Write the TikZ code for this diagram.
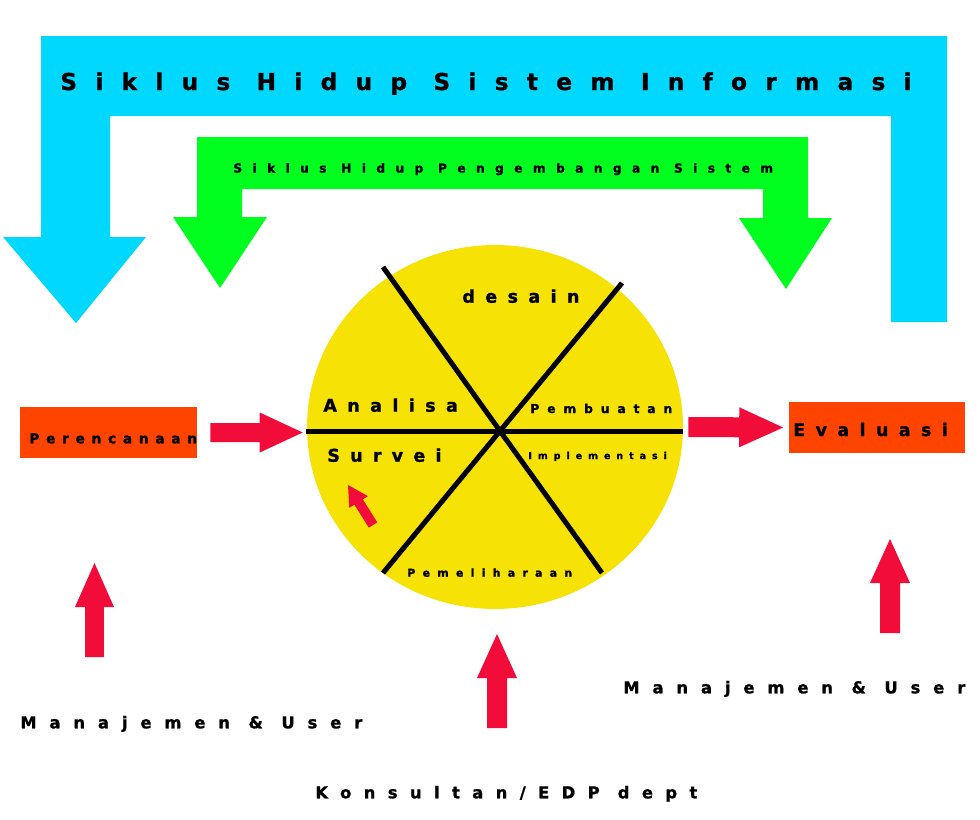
\documentclass[tikz,border=0pt]{standalone}
\usepackage{fontspec}
\setmainfont{DejaVu Sans}[BoldFeatures={FakeBold=1.2}]
\usetikzlibrary{calc,shapes.geometric}

\definecolor{infocyan}{RGB}{0,216,255}
\definecolor{devgreen}{RGB}{0,255,30}
\definecolor{wheelyellow}{RGB}{247,226,6}
\definecolor{boxorange}{RGB}{255,68,0}
\definecolor{arrowred}{RGB}{242,12,58}

% letter-spaced bold text: size (pt), spacing
\newcommand{\spaced}[2]{\fontsize{#1}{#1}\selectfont\addfontfeature{LetterSpace=#2}}
% block arrow: tail, tip, half shaft, half head, head length
\newcommand{\fatarrow}[5]{%
  \coordinate (fa-base) at ($(#2)!#5!(#1)$);
  \fill[arrowred] ($(#1)!#3!90:(#2)$) -- ($(fa-base)!#3!90:(#2)$) -- ($(fa-base)!#4!90:(#2)$)
    -- (#2) -- ($(fa-base)!#4!-90:(#2)$) -- ($(fa-base)!#3!-90:(#2)$) -- ($(#1)!#3!-90:(#2)$) -- cycle;}

\begin{document}
\begin{tikzpicture}[x=0.02cm, y=-0.02cm,
  txt/.style={anchor=base west, inner sep=0pt, font=\bfseries},
  stagebox/.style={fill=boxorange, minimum width=3.54cm, minimum height=1.02cm, inner sep=0pt},
  spoke/.style={line width=0.1cm}]
  \fill[white] (0,0) rectangle (980,819);

  % outer cycle (cyan)
  \fill[infocyan] (947,322) -- (947,36) -- (41,36) -- (41,237) -- (3,237) -- (76,323) -- (146,237)
    -- (110,237) -- (110,116) -- (891,116) -- (891,322) -- cycle;
  \node[txt] (info-title) at (60,90) {\spaced{13.2}{79}Siklus Hidup Sistem Informasi};

  % inner cycle (green)
  \fill[devgreen] (808,218) -- (808,137) -- (197,137) -- (197,217) -- (173,217) -- (220,288) -- (267,217)
    -- (242,217) -- (242,189) -- (763,189) -- (763,218) -- (739,218) -- (786,289) -- (832,218) -- cycle;
  \node[txt] (dev-title) at (233,172.5) {\spaced{7}{84}Siklus Hidup Pengembangan Sistem};

  % wheel of stages
  \node[ellipse, fill=wheelyellow, minimum width=7.52cm, minimum height=7.28cm, inner sep=0pt] (wheel) at (495,427) {};
  \coordinate (hub) at (500,431);
  \foreach \p in {(383,267),(622,283),(383,573),(602,573),(306,431),(683,431)}
    \draw[spoke] (hub) -- \p;
  \node[txt] (desain) at (462,302.7) {\spaced{10}{59}desain};
  \node[txt] (analisa) at (323,411.7) {\spaced{10}{59}Analisa};
  \node[txt] (pembuatan) at (530,413) {\spaced{7}{64}Pembuatan};
  \node[txt] (survei) at (327,461.7) {\spaced{10}{58}Survei};
  \node[txt] (implementasi) at (528,459) {\spaced{5.4}{63}Implementasi};
  \node[txt] (pemeliharaan) at (407,576.7) {\spaced{6.2}{67}Pemeliharaan};

  % start and end
  \node[stagebox] (plan) at (108.5,432.5) {};
  \node[txt] (plan-label) at (29,443.3) {\spaced{7.8}{49}Perencanaan};
  \node[stagebox] (eval) at (877,427.5) {};
  \node[txt] (eval-label) at (793,436) {\spaced{9.9}{60}Evaluasi};

  % who is involved
  \node[txt] (user-left) at (20,728.3) {\spaced{9.3}{79}Manajemen \& User};
  \node[txt] (consult) at (315,798.3) {\spaced{9.3}{76}Konsultan/EDP dept};
  \node[txt] (user-right) at (623,693.3) {\spaced{9.3}{79}Manajemen \& User};

  % red arrows
  \coordinate (plan-out) at ($(plan.east)+(13,0)$);
  \coordinate (wheel-in) at ($(plan.east -| wheel.west)+(-4,0)$);
  \fatarrow{plan-out}{wheel-in}{0.19cm}{0.4cm}{0.86cm}
  \coordinate (wheel-out) at ($(wheel.east)+(5,0)$);
  \coordinate (eval-in) at ($(eval.west)+(-5,0)$);
  \fatarrow{wheel-out}{eval-in}{0.2cm}{0.4cm}{0.88cm}
  \coordinate (up-l-s) at (94.5,657);  \coordinate (up-l-e) at (94.5,563);
  \coordinate (up-m-s) at (497,728);   \coordinate (up-m-e) at (497,634);
  \coordinate (up-r-s) at (890,633);   \coordinate (up-r-e) at (890,539);
  \fatarrow{up-l-s}{up-l-e}{0.19cm}{0.39cm}{0.88cm}
  \fatarrow{up-m-s}{up-m-e}{0.2cm}{0.4cm}{0.88cm}
  \fatarrow{up-r-s}{up-r-e}{0.2cm}{0.4cm}{0.88cm}
  \coordinate (back-s) at (373,525);   \coordinate (back-e) at (348,485);
  \fatarrow{back-s}{back-e}{0.1cm}{0.22cm}{0.4cm}
\end{tikzpicture}
\end{document}
